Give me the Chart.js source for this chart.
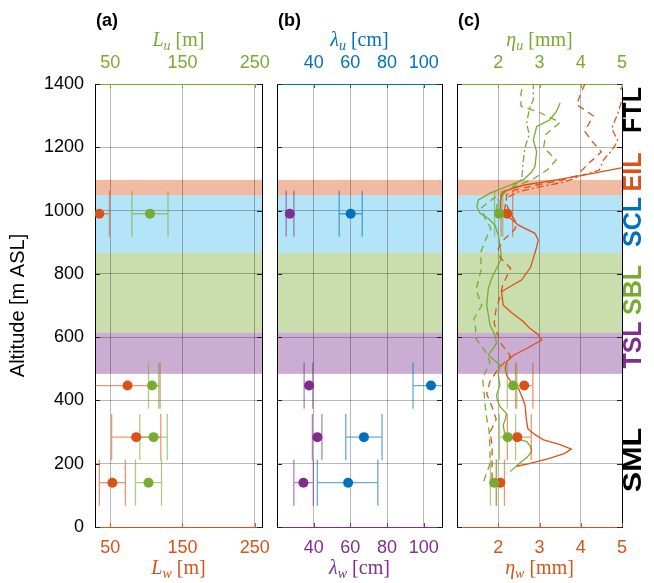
<!DOCTYPE html>
<html>
<head>
<meta charset="utf-8">
<script src="https://cdn.jsdelivr.net/npm/chart.js@4/dist/chart.umd.min.js"></script>
<style>
  body { margin: 0; background: #fff; }
  #wrap { position: relative; width: 654px; height: 583px; }
  canvas { position: absolute; top: 0; }
</style>
</head>
<body>
<div id="wrap">
  <canvas id="panelA" width="272" height="583" style="left:0"></canvas>
  <canvas id="panelB" width="180" height="583" style="left:272px"></canvas>
  <canvas id="panelC" width="202" height="583" style="left:452px"></canvas>
</div>
<script>
// ---- data ----
const altTicks = [0, 200, 400, 600, 800, 1000, 1200, 1400];
const lenTicks = [50, 150, 250];
const lamTicks = [40, 60, 80, 100];
const etaTicks = [2, 3, 4, 5];

// flight legs
const legAlt = [990, 447, 284, 140];
const Lw = [35, 74, 86, 53];
const LwLo = [20, 25, 52, 35];
const LwHi = [49, 119, 120, 71];
const Lu = [105, 108, 110, 103];
const LuLo = [80, 103, 91, 85];
const LuHi = [130, 117, 129, 121];
const lamW = [27, 37.5, 42, 34.4];
const lamWLo = [25, 34.8, 39.3, 29.2];
const lamWHi = [29.2, 39.5, 44.5, 39.8];
const lamU = [60.2, 104, 67.4, 58.8];
const lamULo = [53.9, 94.2, 57.5, 42];
const lamUHi = [66.5, 115, 77.3, 75];
const etaW = [2.22, 2.63, 2.46, 2.05];
const etaWLo = [2.07, 2.42, 2.22, 1.95];
const etaWHi = [2.35, 2.84, 2.8, 2.15];
const etaU = [2.02, 2.36, 2.23, 1.9];
const etaULo = [1.91, 2.22, 2.03, 1.81];
const etaUHi = [2.11, 2.45, 2.42, 1.96];

// eta profiles
const etaWSolidAlt = [192, 200, 215, 232, 246, 260, 275, 291, 310, 340, 385, 410, 438, 460, 480, 500, 522, 543, 565, 591, 610, 630, 650, 675, 701, 744, 760, 781, 820, 849, 880, 907, 928, 954, 975, 995, 1030, 1060, 1080, 1097, 1115, 1135, 1160, 1250, 1350, 1385, 1400];
const etaWSolid = [2.45, 2.75, 3.2, 3.6, 3.77, 3.5, 3.1, 2.9, 2.72, 2.68, 2.65, 2.58, 2.49, 2.3, 2.2, 2.17, 2.2, 2.37, 2.7, 3.05, 2.95, 2.75, 2.6, 2.35, 2.12, 2.08, 2.29, 2.57, 2.78, 2.85, 2.92, 2.97, 2.89, 2.49, 2.3, 2.05, 2.05, 2.12, 2.6, 3.41, 4.2, 4.98, 5.6, 5.8, 5.5, 4.97, 5.05];
const etaWDashAlt = [150, 200, 260, 300, 340, 380, 420, 460, 500, 540, 583, 620, 645, 690, 730, 760, 790, 818, 850, 880, 910, 940, 960, 990, 1020, 1050, 1065, 1080, 1095, 1110, 1150, 1185, 1215, 1250, 1300, 1335, 1370, 1400];
const etaWDash = [1.85, 1.85, 1.85, 1.8, 1.95, 1.85, 1.72, 1.8, 2.0, 2.3, 2.05, 1.95, 1.9, 1.95, 2.05, 2.1, 2.2, 2.3, 2.05, 2.0, 2.15, 2.4, 2.45, 2.3, 2.2, 2.2, 2.4, 2.9, 3.5, 3.9, 4.2, 4.5, 4.3, 4.1, 4.3, 3.9, 4.0, 4.1];
const etaWDotAlt = [1000, 1040, 1060, 1075, 1090, 1110, 1128, 1160, 1190, 1220, 1260, 1307, 1350, 1400];
const etaWDot = [2.15, 2.2, 2.5, 3.0, 3.6, 4.0, 4.45, 4.55, 4.75, 4.9, 4.75, 4.9, 5.0, 5.1];
const etaUSolidAlt = [175, 200, 220, 238, 255, 270, 280, 285, 300, 322, 340, 359, 380, 400, 417, 449, 480, 512, 543, 580, 607, 638, 670, 702, 754, 786, 818, 849, 891, 923, 954, 975, 991, 1013, 1034, 1055, 1076, 1097, 1120, 1139, 1186, 1223, 1265, 1287, 1313, 1340];
const etaUSolid = [2.29, 2.5, 2.7, 2.81, 2.78, 2.69, 2.4, 2.2, 2.15, 2.12, 2.17, 2.2, 2.04, 1.98, 1.96, 2.04, 2.0, 2.04, 1.76, 1.96, 1.92, 1.8, 1.76, 1.72, 1.76, 1.84, 1.96, 2.08, 2.04, 2.0, 1.92, 1.76, 1.56, 1.48, 1.52, 1.8, 2.2, 2.6, 2.8, 2.89, 2.93, 2.85, 2.93, 3.25, 3.41, 3.5];
const etaUDashAlt = [145, 200, 250, 300, 360, 420, 470, 520, 553, 595, 630, 658, 700, 750, 810, 870, 910, 944, 976, 1010, 1040, 1070, 1100, 1130, 1160, 1200, 1240, 1279, 1310, 1330, 1370, 1400];
const etaUDash = [1.65, 1.8, 1.8, 1.78, 1.7, 1.66, 1.62, 1.8, 1.7, 1.46, 1.45, 1.41, 1.6, 1.46, 1.58, 1.58, 1.7, 1.82, 1.68, 1.6, 1.9, 2.3, 2.85, 3.2, 3.4, 3.1, 3.15, 3.5, 3.0, 2.55, 2.55, 2.6];
const etaUDotAlt = [1000, 1040, 1070, 1100, 1150, 1200, 1240, 1276, 1320, 1350, 1400];
const etaUDot = [1.95, 2.0, 2.3, 2.57, 2.6, 2.65, 2.75, 2.69, 2.75, 2.85, 2.85];

// boundary-layer sublayers
const layerNames = ['EIL', 'SCL', 'SBL', 'TSL'];
const layerBase = [1048, 867, 614, 484];
const layerTop = [1097, 1048, 867, 614];

// ---- style ----
const ORANGE = '#D95319', GREEN = '#77AC30', BLUE = '#0072BD', PURPLE = '#7E2F8E';
const GRID = 'rgba(0,0,0,0.28)';
const CAP = 73; // half height of error bar caps (m)
const layerFill = { EIL: 'rgba(217,83,25,0.4)', SCL: 'rgba(77,190,238,0.42)', SBL: 'rgba(119,172,48,0.4)', TSL: 'rgba(126,47,142,0.4)' };
const layerLabels = [['FTL', '#000', 110], ['EIL', ORANGE, 172], ['SCL', BLUE, 222], ['SBL', GREEN, 290], ['TSL', PURPLE, 345], ['SML', '#000', 460]];

Chart.defaults.font.family = '"Liberation Sans", Arial, sans-serif';
Chart.defaults.font.size = 18;

function fade(hex, a) {
  const n = parseInt(hex.slice(1), 16);
  return `rgba(${n >> 16},${(n >> 8) & 255},${n & 255},${a})`;
}

function pts(xs, ys) {
  return xs.map((v, i) => ({ x: v, y: ys[i] }));
}

function errorBars(alts, lo, hi) {
  const d = [];
  alts.forEach((a, i) => {
    d.push({ x: lo[i], y: a }, { x: hi[i], y: a }, { x: lo[i], y: null });
    d.push({ x: lo[i], y: a - CAP }, { x: lo[i], y: a + CAP }, { x: lo[i], y: null });
    d.push({ x: hi[i], y: a - CAP }, { x: hi[i], y: a + CAP }, { x: hi[i], y: null });
  });
  return d;
}

function legSets(axis, color, vals, lo, hi) {
  return [
    { data: pts(vals, legAlt), xAxisID: axis, yAxisID: 'y', backgroundColor: color, borderWidth: 0, pointRadius: 5, order: 0, clip: 0 },
    { data: errorBars(legAlt, lo, hi), xAxisID: axis, yAxisID: 'y', showLine: true, spanGaps: false, borderColor: fade(color, 0.6), borderWidth: 1.3, pointRadius: 0, order: 1, clip: 0 }
  ];
}

function profile(axis, color, vals, alts, dash) {
  return { data: pts(vals, alts), xAxisID: axis, yAxisID: 'y', showLine: true, borderColor: color, borderWidth: 1.3, borderDash: dash, pointRadius: 0, order: 2, clip: 0 };
}

// sublayer bands under the grid
const bands = {
  id: 'bands',
  beforeDraw(chart) {
    const { ctx, chartArea: a, scales: { y } } = chart;
    ctx.save();
    layerNames.forEach((n, i) => {
      const t = y.getPixelForValue(layerTop[i]), b = y.getPixelForValue(layerBase[i]);
      ctx.fillStyle = layerFill[n];
      ctx.fillRect(a.left, t, a.right - a.left, b - t);
    });
    ctx.restore();
  }
};

// short inward tick marks like matlab
const innerTicks = {
  id: 'innerTicks',
  beforeDatasetsDraw(chart) {
    const { ctx, chartArea: a, scales } = chart;
    ctx.save();
    ctx.lineWidth = 1;
    ctx.strokeStyle = '#222';
    ctx.beginPath();
    scales.y.ticks.forEach(t => {
      const py = Math.round(scales.y.getPixelForValue(t.value)) + 0.5;
      ctx.moveTo(a.left, py); ctx.lineTo(a.left + 5, py);
      ctx.moveTo(a.right - 5, py); ctx.lineTo(a.right, py);
    });
    ctx.stroke();
    [['x', a.bottom, -4], ['x2', a.top, 4]].forEach(([id, py, dy]) => {
      const s = scales[id];
      ctx.strokeStyle = s.options.border.color;
      ctx.beginPath();
      s.ticks.forEach(t => {
        const px = Math.round(s.getPixelForValue(t.value)) + 0.5;
        ctx.moveTo(px, py); ctx.lineTo(px, py + dy);
      });
      ctx.stroke();
    });
    ctx.restore();
  }
};

function mathTitle(ctx, cx, base, t) {
  const it = 'italic 20px "Liberation Serif"', sub = 'italic 14px "Liberation Serif"', up = '20px "Liberation Serif"';
  ctx.font = it; const w1 = ctx.measureText(t[0]).width;
  ctx.font = sub; const w2 = ctx.measureText(t[1]).width;
  ctx.font = up; const w3 = ctx.measureText(' ' + t[2]).width;
  let x = cx - (w1 + w2 + w3) / 2;
  ctx.fillStyle = t[3];
  ctx.textAlign = 'left';
  ctx.textBaseline = 'alphabetic';
  ctx.font = it; ctx.fillText(t[0], x, base); x += w1;
  ctx.font = sub; ctx.fillText(t[1], x, base + 4); x += w2;
  ctx.font = up; ctx.fillText(' ' + t[2], x, base);
}

const panelText = {
  id: 'panelText',
  afterDraw(chart, args, o) {
    const { ctx, chartArea: a } = chart;
    const cx = (a.left + a.right) / 2;
    ctx.save();
    ctx.fillStyle = '#000';
    ctx.font = 'bold 18px "Liberation Sans"';
    ctx.textAlign = 'left';
    ctx.textBaseline = 'alphabetic';
    ctx.fillText(o.tag, a.left + 1, 26);
    mathTitle(ctx, cx, 46, o.top);
    mathTitle(ctx, cx, 574, o.bottom);
    if (o.yTitle) {
      ctx.save();
      ctx.translate(18, (a.top + a.bottom) / 2);
      ctx.rotate(-Math.PI / 2);
      ctx.font = '20px "Liberation Sans"';
      ctx.fillStyle = '#000';
      ctx.textAlign = 'center';
      ctx.textBaseline = 'middle';
      ctx.fillText(o.yTitle, 0, 0);
      ctx.restore();
    }
    if (o.layers) {
      layerLabels.forEach(([txt, col, py]) => {
        ctx.save();
        ctx.translate(a.right + 12, py);
        ctx.rotate(-Math.PI / 2);
        if (txt === 'SML') ctx.scale(1.22, 1); // wide M in the original
        ctx.font = 'bold 25px "Liberation Sans"';
        ctx.fillStyle = col;
        ctx.textAlign = 'center';
        ctx.textBaseline = 'middle';
        ctx.fillText(txt, 0, 0);
        ctx.restore();
      });
    }
    ctx.restore();
  }
};

function noPad(ax) {
  ax.paddingLeft = 0; ax.paddingRight = 0; ax.paddingTop = 0; ax.paddingBottom = 0;
}

function xAxis(pos, min, max, ticks, color) {
  return {
    type: 'linear', axis: 'x', position: pos, min: min, max: max,
    afterBuildTicks: ax => { ax.ticks = ticks.map(v => ({ value: v })); },
    afterFit: ax => { ax.height = pos === 'top' ? 84 : 56; noPad(ax); },
    ticks: { color: color, padding: 10, callback: v => String(v) },
    grid: { display: pos === 'bottom', color: GRID, drawTicks: false },
    border: { color: color, width: 1 }
  };
}

function panel(id, o) {
  return new Chart(document.getElementById(id), {
    type: 'scatter',
    data: { datasets: o.datasets },
    options: {
      responsive: false,
      animation: false,
      events: [],
      layout: { padding: { left: 0, right: o.padRight, top: 0, bottom: 0 } },
      plugins: { legend: { display: false }, tooltip: { enabled: false }, panelText: o.text },
      scales: {
        x: xAxis('bottom', o.min, o.max, o.ticks, o.bottomColor),
        x2: xAxis('top', o.min, o.max, o.ticks, o.topColor),
        y: {
          type: 'linear', min: 0, max: 1400,
          afterBuildTicks: ax => { ax.ticks = altTicks.map(v => ({ value: v })); },
          afterFit: ax => { ax.width = o.yWidth; noPad(ax); },
          ticks: { display: o.showY, color: '#000', padding: 11, callback: v => String(v) },
          grid: { color: GRID, drawTicks: false },
          border: { color: '#000', width: 1 }
        },
        y2: {
          type: 'linear', axis: 'y', position: 'right', min: 0, max: 1400,
          afterFit: ax => { ax.width = 0; noPad(ax); },
          ticks: { display: false },
          grid: { display: false },
          border: { color: '#000', width: 1 }
        }
      }
    },
    plugins: [bands, innerTicks, panelText]
  });
}

panel('panelA', {
  min: 29, max: 260, ticks: lenTicks, bottomColor: ORANGE, topColor: GREEN,
  yWidth: 95, showY: true, padRight: 10,
  datasets: [...legSets('x2', GREEN, Lu, LuLo, LuHi), ...legSets('x', ORANGE, Lw, LwLo, LwHi)],
  text: { tag: '(a)', top: ['L', 'u', '[m]', GREEN], bottom: ['L', 'w', '[m]', ORANGE], yTitle: 'Altitude [m ASL]' }
});

panel('panelB', {
  min: 20, max: 110, ticks: lamTicks, bottomColor: PURPLE, topColor: BLUE,
  yWidth: 3, showY: false, padRight: 10,
  datasets: [...legSets('x2', BLUE, lamU, lamULo, lamUHi), ...legSets('x', PURPLE, lamW, lamWLo, lamWHi)],
  text: { tag: '(b)', top: ['\u03bb', 'u', '[cm]', BLUE], bottom: ['\u03bb', 'w', '[cm]', PURPLE] }
});

panel('panelC', {
  min: 1, max: 5, ticks: etaTicks, bottomColor: ORANGE, topColor: GREEN,
  yWidth: 3, showY: false, padRight: 32,
  datasets: [
    ...legSets('x2', GREEN, etaU, etaULo, etaUHi),
    ...legSets('x', ORANGE, etaW, etaWLo, etaWHi),
    profile('x', ORANGE, etaWSolid, etaWSolidAlt, []),
    profile('x', ORANGE, etaWDash, etaWDashAlt, [7, 5]),
    profile('x', ORANGE, etaWDot, etaWDotAlt, [7, 3, 2, 3]),
    profile('x2', GREEN, etaUSolid, etaUSolidAlt, []),
    profile('x2', GREEN, etaUDash, etaUDashAlt, [7, 5]),
    profile('x2', GREEN, etaUDot, etaUDotAlt, [7, 3, 2, 3])
  ],
  text: { tag: '(c)', top: ['\u03b7', 'u', '[mm]', GREEN], bottom: ['\u03b7', 'w', '[mm]', ORANGE], layers: true }
});
</script>
</body>
</html>
